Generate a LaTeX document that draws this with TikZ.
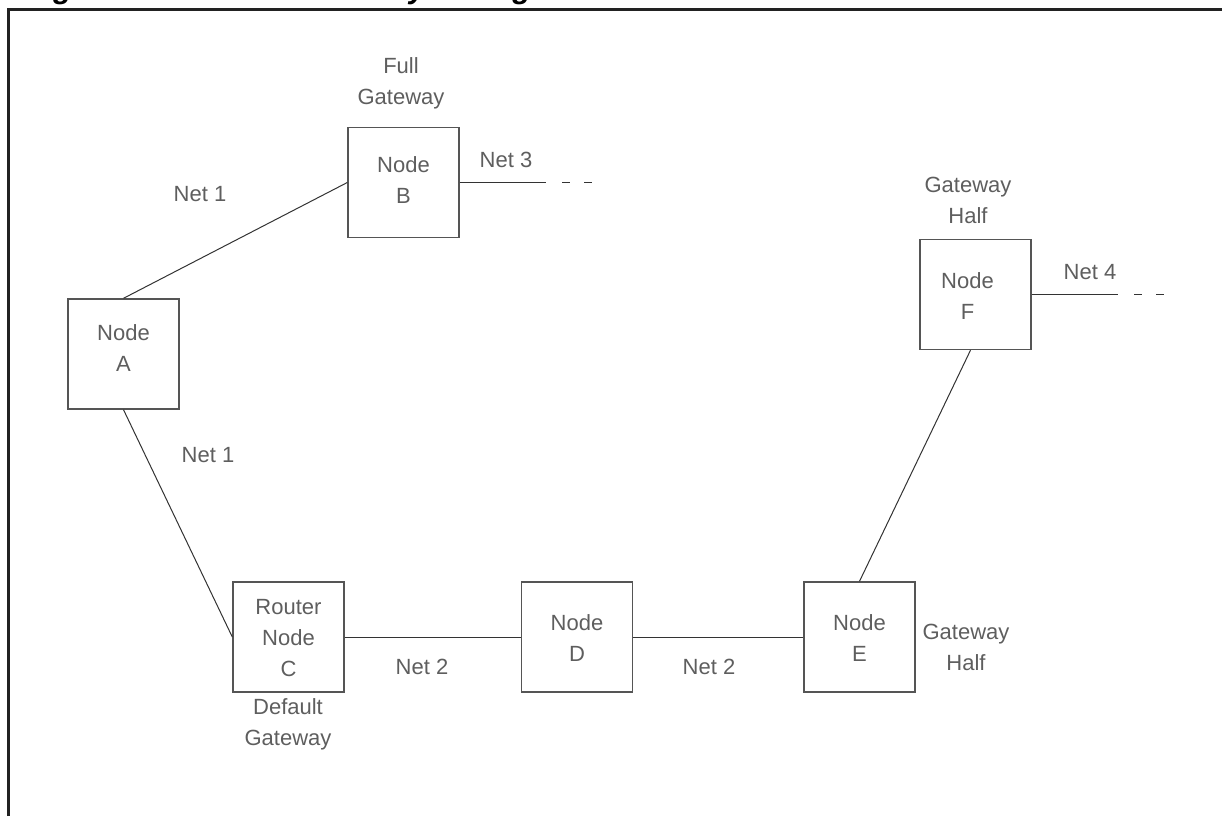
\documentclass[tikz,border=0pt]{standalone}
\usepackage{fontspec}
\setmainfont{Liberation Sans}
\definecolor{boxgray}{HTML}{555555}
\definecolor{txtgray}{HTML}{5E5E5E}
\definecolor{linegray}{HTML}{333333}
\definecolor{framecol}{HTML}{222222}
\tikzset{
  netbox/.style={draw=boxgray, line width=1.4pt, minimum width=111pt, minimum height=110pt,
    inner sep=0pt, align=center, font=\fontsize{22}{31}\selectfont, text=txtgray},
  lbl/.style={inner sep=0pt, align=center, font=\fontsize{22}{31}\selectfont, text=txtgray},
  conn/.style={draw=linegray, line width=1pt},
  dashtail/.style={draw=linegray, line width=1pt, dash pattern=on 8pt off 14pt}
}
\begin{document}
\begin{tikzpicture}[x=1pt,y=-1pt]
\useasboundingbox (0,0) rectangle (1222,816);
% title (cropped at the top of the page, as in the reference)
\node[anchor=base west, inner sep=0pt, font=\fontsize{30.5}{32}\selectfont\bfseries\itshape, text=black] (title) at (26,-1) {Figure 4-1 Internet Gateway Configuration};
% frame
\draw[framecol, line width=3pt] (8.5,816) -- (8.5,10) -- (1222,10);
% nodes
\node[netbox] (A) at (123.5,354) {};
\node[lbl] (At) at ([yshift=6pt]A.center) {Node\\A};
\node[netbox] (B) at (403.5,182.5) {};
\node[lbl] (Bt) at ([yshift=2pt]B.center) {Node\\B};
\node[netbox] (C) at (288.5,637) {};
\node[lbl] (Ct) at ([yshift=-1pt]C.center) {Router\\Node\\C};
\node[netbox] (D) at (577,637) {};
\node[lbl] (Dt) at ([yshift=-1pt]D.center) {Node\\D};
\node[netbox] (E) at (859.5,637) {};
\node[lbl] (Et) at ([yshift=-1pt]E.center) {Node\\E};
\node[netbox] (F) at (975.5,294.5) {};
\node[lbl] (Ft) at ([xshift=-8pt,yshift=-2pt]F.center) {Node\\F};
% connectors
\draw[conn] (A.north) -- (B.west);
\draw[conn] (A.south) -- (C.west);
\draw[conn] (C.east) -- (D.west);
\draw[conn] (D.east) -- (E.west);
\draw[conn] (E.north) -- ([xshift=-5pt]F.south);
\coordinate (n3end) at (546,182.5);
\coordinate (n3da) at (562,182.5);
\coordinate (n3db) at (592,182.5);
\draw[conn] (B.east) -- (n3end);
\draw[dashtail] (n3da) -- (n3db);
\coordinate (n4end) at (1118,294.5);
\coordinate (n4da) at (1134,294.5);
\coordinate (n4db) at (1164,294.5);
\draw[conn] (F.east) -- (n4end);
\draw[dashtail] (n4da) -- (n4db);
% labels
\node[lbl] (l1) at (200,194) {Net 1};
\node[lbl] (l2) at (208,455) {Net 1};
\node[lbl] (l3) at (506,160) {Net 3};
\node[lbl] (l4) at (422,667) {Net 2};
\node[lbl] (l5) at (709,667) {Net 2};
\node[lbl] (l6) at (1090,272) {Net 4};
\node[lbl] (fg) at (401,83) {Full\\Gateway};
\node[lbl] (gh1) at (968,200) {Gateway\\Half};
\node[lbl] (gh2) at (966,647) {Gateway\\Half};
\node[lbl] (dg) at (288,724) {Default\\Gateway};
\end{tikzpicture}
\end{document}
